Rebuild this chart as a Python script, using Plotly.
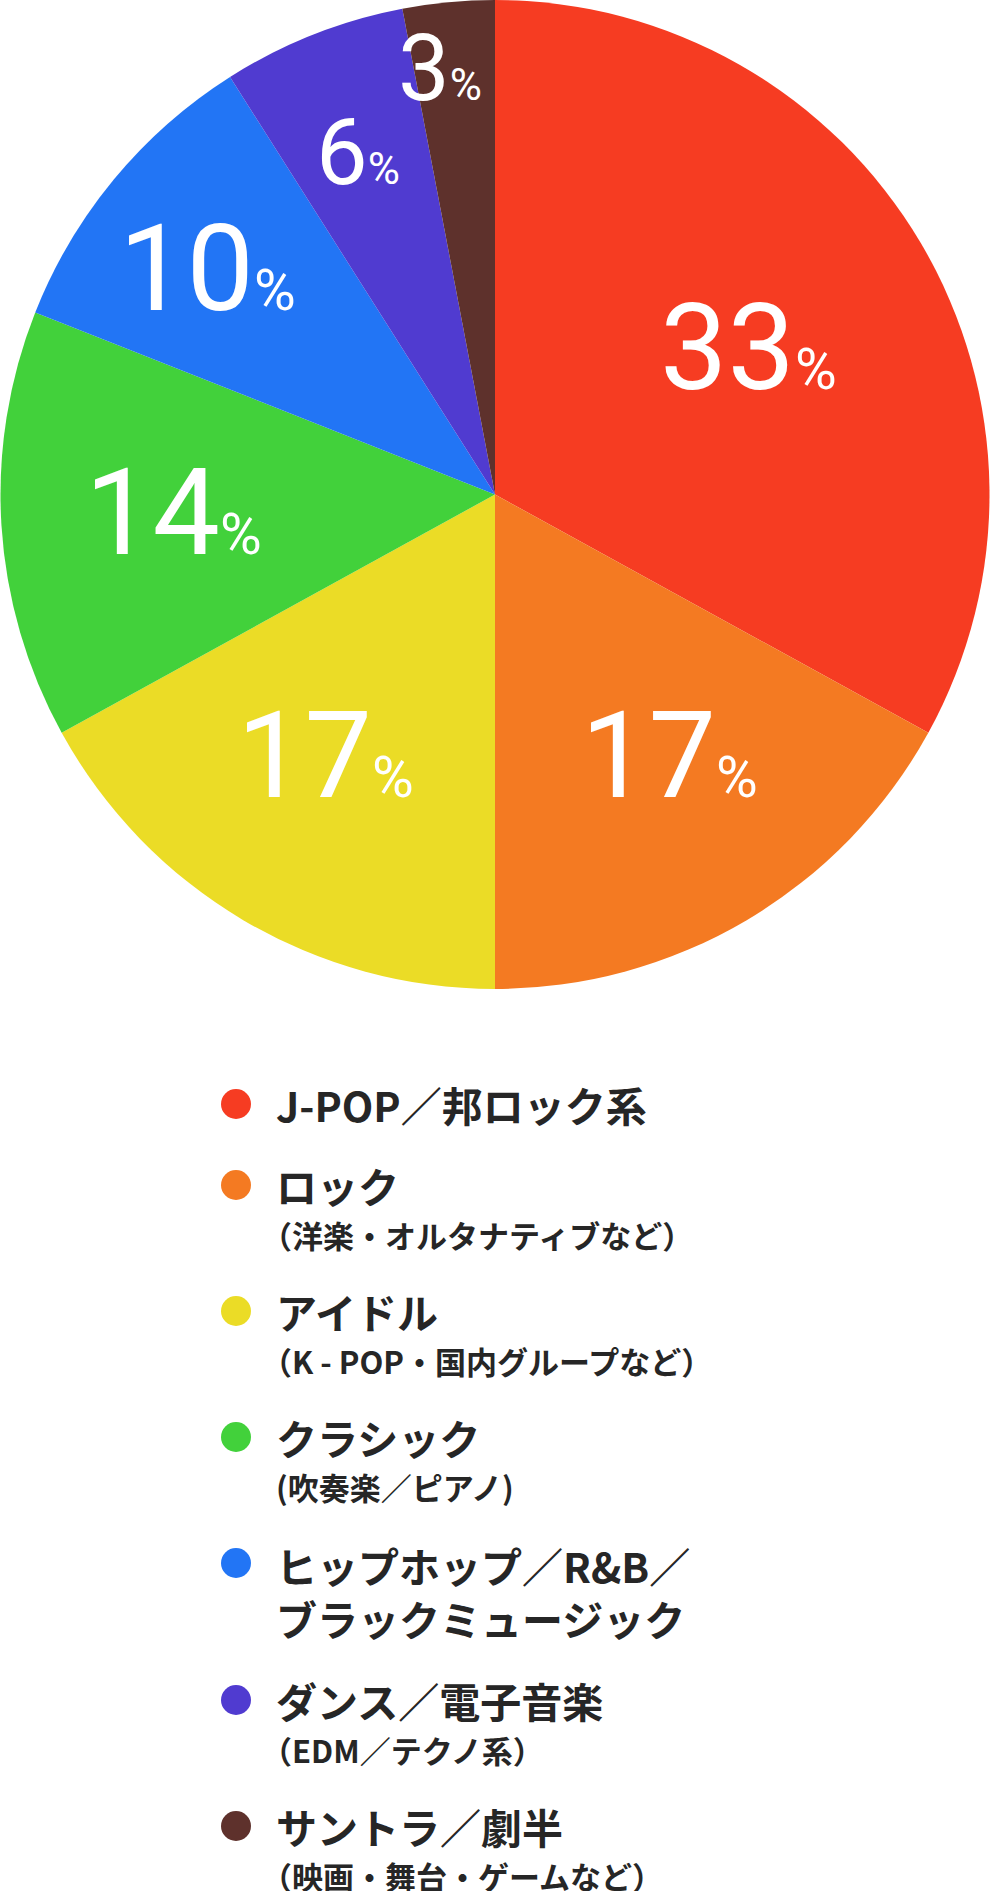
import math
import plotly.graph_objects as go

# ---- data ----
categories = ["J-POP／邦ロック系", "ロック", "アイドル", "クラシック",
              "ヒップホップ／R&B／ブラックミュージック", "ダンス／電子音楽", "サントラ／劇半"]
values = [33, 17, 17, 14, 10, 6, 3]
legend_main = [["J-POP／邦ロック系"], ["ロック"], ["アイドル"], ["クラシック"],
               ["ヒップホップ／R&amp;B／", "ブラックミュージック"], ["ダンス／電子音楽"], ["サントラ／劇半"]]
legend_sub = ["", "（洋楽・オルタナティブなど）", "（K - POP・国内グループなど）", "(吹奏楽／ピアノ)",
              "", "（EDM／テクノ系）", "（映画・舞台・ゲームなど）"]
colors = ["#F63C22", "#F47A22", "#EBDC26", "#42D13B", "#2275F5", "#503BD0", "#5E312C"]

# ---- style / layout ----
W, H = 990, 1891
PIE_D = 989
CX, CY, R = W / 2, PIE_D / 2, PIE_D / 2
label_r = [0.593, 0.636, 0.63, 0.652, 0.739, 0.745, 0.868]
label_frac = [0.505, 0.45, 0.54, 0.506, 0.46, 0.49, 0.32]
big = [120, 120, 120, 120, 120, 92, 92]
TEXT = "#262626"
NUMFONT = "Roboto"
JPFONT = "Noto Sans CJK JP"

fig = go.Figure()
fig.add_trace(go.Pie(
    labels=categories, values=values, sort=False, direction="clockwise", rotation=0,
    marker=dict(colors=colors, line=dict(width=0)), textinfo="none", hoverinfo="label+percent",
    domain=dict(x=[0, 1], y=[1 - PIE_D / H, 1]), showlegend=False,
))

annotations = []
total = sum(values)
cum = 0
for i, v in enumerate(values):
    th = 2 * math.pi * (cum + v * label_frac[i]) / total
    cum += v
    x = CX + label_r[i] * R * math.sin(th)
    y = CY - label_r[i] * R * math.cos(th)
    pct = round(100 * v / total)
    annotations.append(dict(
        x=x, y=y, xref="x", yref="y", xanchor="center", yanchor="middle", showarrow=False,
        text=f"{pct}<span style='font-size:{int(big[i]*0.48)}px'>%</span>",
        font=dict(family=NUMFONT, size=big[i], color="white"),
    ))

# legend
MAIN_FS, SUB_FS = 41, 31
MAIN_STEP = 56
y = 1104
dot_x, dot_y = [], []
TX = 274
for i in range(len(categories)):
    dot_x.append(236)
    dot_y.append(y)
    n = len(legend_main[i])
    last = y + MAIN_STEP * (n - 1)
    annotations.append(dict(x=TX, y=(y + last) / 2, xref="x", yref="y", xanchor="left",
                            yanchor="middle", align="left", showarrow=False,
                            text="<br>".join(f"<b>{ln}</b>" for ln in legend_main[i]),
                            font=dict(family=JPFONT, size=MAIN_FS, color=TEXT)))
    if legend_sub[i]:
        sx = TX - (SUB_FS * 0.5 if legend_sub[i].startswith("（") else 0)
        last = last + 49
        annotations.append(dict(x=sx, y=last, xref="x", yref="y", xanchor="left", yanchor="middle",
                                showarrow=False, text=f"<b>{legend_sub[i]}</b>",
                                font=dict(family=JPFONT, size=SUB_FS, color=TEXT)))
        y = last + 77
    else:
        y = last + 81

fig.add_trace(go.Scatter(x=dot_x, y=dot_y, mode="markers", hoverinfo="skip", showlegend=False,
                         marker=dict(size=30, color=colors, line=dict(width=0))))

fig.update_layout(
    width=W, height=H, autosize=False, margin=dict(l=0, r=0, t=0, b=0),
    paper_bgcolor="white", plot_bgcolor="white", showlegend=False,
    xaxis=dict(range=[0, W], visible=False, domain=[0, 1], fixedrange=True),
    yaxis=dict(range=[H, 0], visible=False, domain=[0, 1], fixedrange=True),
    annotations=annotations,
)
fig.write_html("out.html", config={"displayModeBar": False, "responsive": False})
